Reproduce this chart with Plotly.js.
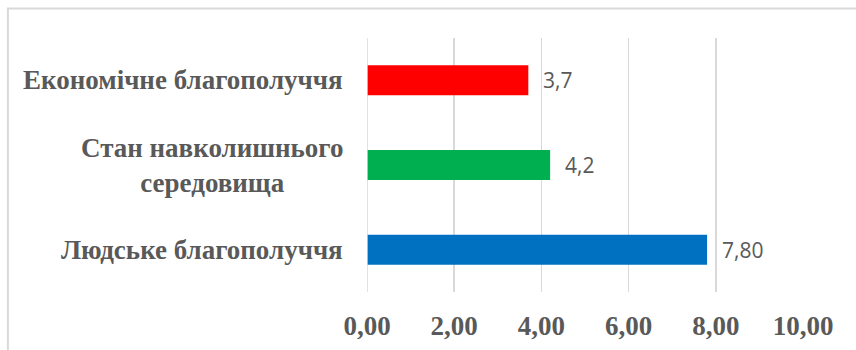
<!DOCTYPE html>
<html>
<head>
<meta charset="utf-8">
<script src="https://cdn.plot.ly/plotly-3.0.1.min.js"></script>
<style>
  html, body { margin: 0; padding: 0; background: #fff; }
  #chart { width: 856px; height: 350px; }
</style>
</head>
<body>
<div id="chart"></div>
<script>
const categories = ["Людське благополуччя", "Стан навколишнього<br>середовища", "Економічне благополуччя"];
const values = [7.80, 4.2, 3.7];
const valueLabels = ["7,80", "4,2", "3,7"];
const barColors = ["#0070C0", "#00B050", "#FF0000"];
const xTickVals = [0, 2, 4, 6, 8, 10];

const trace = {
  type: "bar",
  orientation: "h",
  y: categories,
  x: values,
  marker: { color: barColors, line: { width: 0 } },
  hoverinfo: "none",
  showlegend: false
};

const annotations = [];
categories.forEach((c, i) => {
  annotations.push({
    x: 0, xref: "paper", y: c, yref: "y",
    xanchor: "right", yanchor: "middle", xshift: -22, align: "center",
    text: c, showarrow: false,
    font: { family: "Liberation Serif, Times New Roman, serif", size: 27, color: "#595959", weight: "bold" }
  });
  annotations.push({
    x: values[i], xref: "x", y: c, yref: "y",
    xanchor: "left", yanchor: "middle", xshift: 13,
    text: valueLabels[i], showarrow: false,
    font: { family: "Open Sans, Liberation Sans, sans-serif", size: 21, color: "#595959" }
  });
});

const layout = {
  width: 856, height: 350,
  margin: { l: 367, r: 52.5, t: 38, b: 58, pad: 0 },
  paper_bgcolor: "#ffffff",
  plot_bgcolor: "#ffffff",
  separators: ", ",
  bargap: 0.645,
  xaxis: {
    range: [0, 10],
    tickvals: xTickVals,
    tickformat: ".2f",
    showgrid: true, gridcolor: "#d9d9d9", gridwidth: 1.5,
    zeroline: false, showline: false,
    ticks: "outside", ticklen: 10, tickcolor: "rgba(0,0,0,0)",
    tickfont: { family: "Liberation Serif, Times New Roman, serif", size: 27, color: "#595959", weight: "bold" },
    fixedrange: true
  },
  yaxis: {
    type: "category",
    categoryorder: "array", categoryarray: categories,
    showticklabels: false, showgrid: false, zeroline: false,
    showline: false, ticks: "", fixedrange: true
  },
  shapes: [
    { type: "line", xref: "x", yref: "paper", x0: 0, x1: 0, y0: 0, y1: 1,
      line: { color: "#d9d9d9", width: 1.5 } },
    { type: "rect", xref: "paper", yref: "paper",
      x0: -0.8236, x1: 1.2, y0: -0.3, y1: 1.116,
      line: { color: "#d9d9d9", width: 2 }, fillcolor: "rgba(0,0,0,0)", layer: "below" }
  ],
  annotations: annotations
};

Plotly.newPlot("chart", [trace], layout, { displayModeBar: false, staticPlot: true });
</script>
</body>
</html>
